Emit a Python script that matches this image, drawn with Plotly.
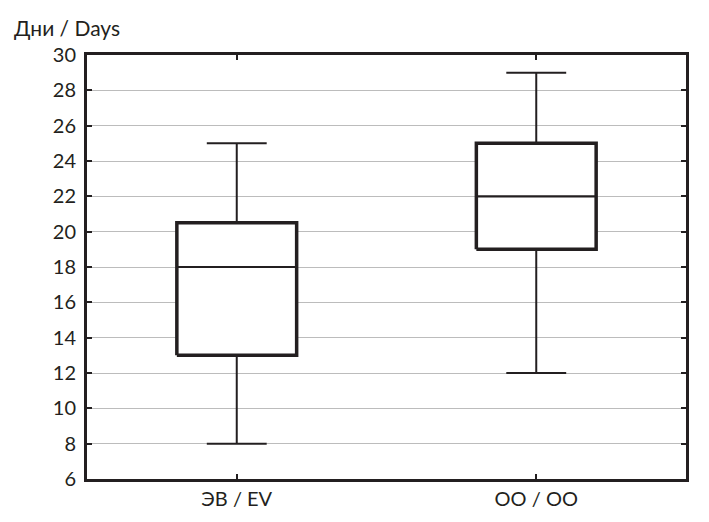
import plotly.graph_objects as go

categories = ["ЭВ / EV", "ОО / ОО"]
lower_whisker = [8, 12]
q1 = [13, 19]
median = [18, 22]
q3 = [20.5, 25]
upper_whisker = [25, 29]
y_ticks = [6, 8, 10, 12, 14, 16, 18, 20, 22, 24, 26, 28, 30]

INK = "#231f20"
FONT = "Lato, Open Sans, sans-serif"
BOX_HALF = 0.2
CAP_HALF = 0.1

fig = go.Figure()
for i, name in enumerate(categories):
    # whiskers
    fig.add_trace(go.Scatter(
        x=[i, i, None, i, i, None, i - CAP_HALF, i + CAP_HALF, None, i - CAP_HALF, i + CAP_HALF],
        y=[q3[i], upper_whisker[i], None, q1[i], lower_whisker[i], None,
           upper_whisker[i], upper_whisker[i], None, lower_whisker[i], lower_whisker[i]],
        mode="lines", line=dict(color=INK, width=2), hoverinfo="skip", showlegend=False))
    # box
    fig.add_trace(go.Scatter(
        x=[i - BOX_HALF, i + BOX_HALF, i + BOX_HALF, i - BOX_HALF, i - BOX_HALF],
        y=[q1[i], q1[i], q3[i], q3[i], q1[i]],
        mode="lines", fill="toself", fillcolor="white",
        line=dict(color=INK, width=3.5), name=name, showlegend=False))
    # median
    fig.add_trace(go.Scatter(
        x=[i - BOX_HALF, i + BOX_HALF], y=[median[i], median[i]],
        mode="lines", line=dict(color=INK, width=2.2), hoverinfo="skip", showlegend=False))

fig.update_layout(
    width=709, height=522,
    margin=dict(l=87, r=23, t=55, b=43),
    paper_bgcolor="white", plot_bgcolor="white",
    font=dict(family=FONT, color=INK, size=20),
    showlegend=False,
    annotations=[dict(text="Дни / Days", xref="paper", yref="paper",
                      x=-0.125, y=1.03, xanchor="left", yanchor="bottom",
                      showarrow=False, font=dict(size=21, family=FONT, color=INK))],
)
fig.update_xaxes(
    range=[-0.5, 1.5], tickvals=[0, 1], ticktext=categories,
    showgrid=False, zeroline=False,
    showline=True, linecolor=INK, linewidth=3, mirror="ticks",
    ticks="inside", ticklen=5, tickcolor=INK, tickwidth=2,
)
fig.update_yaxes(
    range=[6, 30], tickvals=y_ticks,
    showgrid=True, gridcolor="#bcbcbc", gridwidth=1, zeroline=False,
    showline=True, linecolor=INK, linewidth=3, mirror="ticks",
    ticks="inside", ticklen=5, tickcolor=INK, tickwidth=2,
    ticklabelstandoff=4,
)

fig.write_html("out.html", config={"displayModeBar": False},
               post_script="document.body.style.margin='0';")
